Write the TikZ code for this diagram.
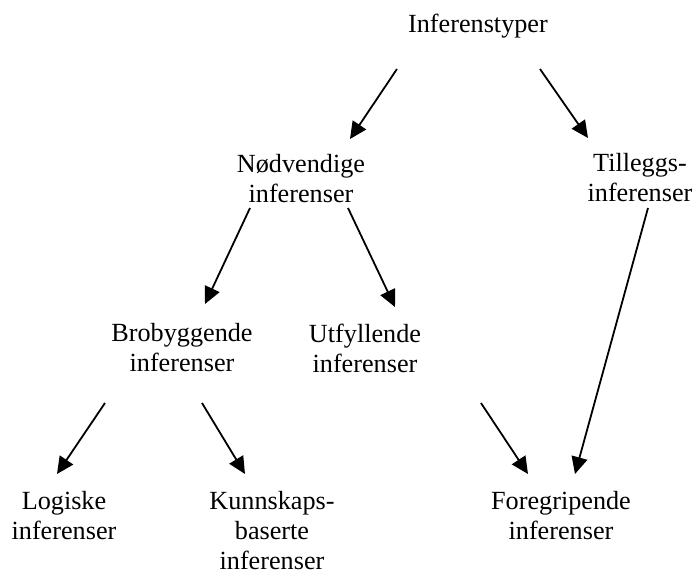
\documentclass[tikz,border=0pt]{standalone}
\usepackage{fontspec}
\setmainfont{Liberation Serif}
\usetikzlibrary{arrows.meta}
\begin{document}
\begin{tikzpicture}[x=0.5pt,y=-0.5pt,
  lbl/.style={align=center,inner sep=0pt,font=\fontsize{13.1}{15}\selectfont},
  arr/.style={line width=0.9pt,-{Triangle[length=8.5pt,width=8pt]}}]
\useasboundingbox (0,0) rectangle (693,574);
\node[lbl] (inf) at (478,26) {Inferenstyper};
\node[lbl] (nod) at (301,179) {Nødvendige\\inferenser};
\node[lbl] (til) at (640,178) {Tilleggs-\\inferenser};
\node[lbl] (bro) at (182,348) {Brobyggende\\inferenser};
\node[lbl] (utf) at (365,348) {Utfyllende\\inferenser};
\node[lbl] (log) at (64,516) {Logiske\\inferenser};
\node[lbl] (kun) at (272,531) {Kunnskaps-\\baserte\\inferenser};
\node[lbl] (for) at (561,516) {Foregripende\\inferenser};
\coordinate (a1s) at (397,69);  \coordinate (a1e) at (350,139);
\coordinate (a2s) at (540,69);  \coordinate (a2e) at (588,138);
\coordinate (a3s) at (250,208); \coordinate (a3e) at (205,304);
\coordinate (a4s) at (348,208); \coordinate (a4e) at (395,307);
\coordinate (a5s) at (105,403); \coordinate (a5e) at (57,474);
\coordinate (a6s) at (202,403); \coordinate (a6e) at (245,474);
\coordinate (a7s) at (481,403); \coordinate (a7e) at (528,474);
\coordinate (a8s) at (648,208); \coordinate (a8e) at (575,474);
\draw[arr] (a1s) -- (a1e);
\draw[arr] (a2s) -- (a2e);
\draw[arr] (a3s) -- (a3e);
\draw[arr] (a4s) -- (a4e);
\draw[arr] (a5s) -- (a5e);
\draw[arr] (a6s) -- (a6e);
\draw[arr] (a7s) -- (a7e);
\draw[arr] (a8s) -- (a8e);
\end{tikzpicture}
\end{document}
